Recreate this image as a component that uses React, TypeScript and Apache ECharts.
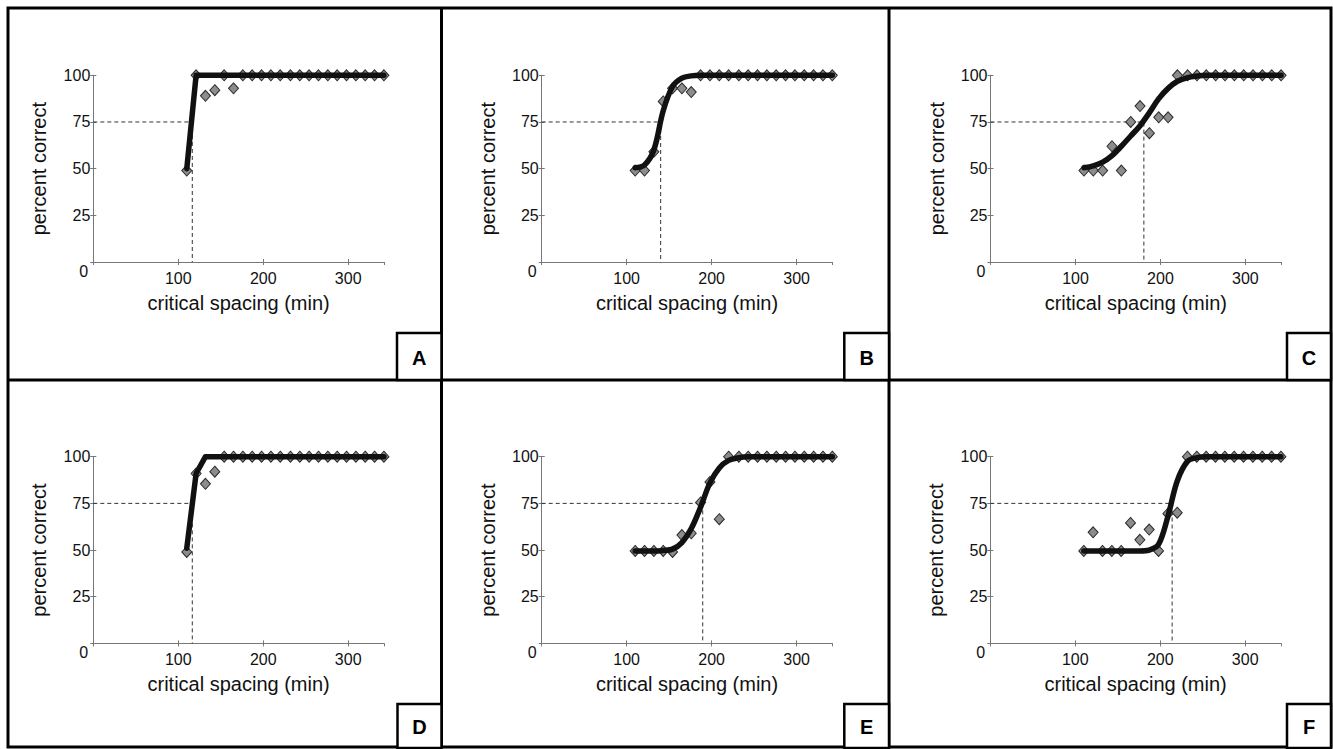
import React, { useEffect, useRef } from 'react';
import * as echarts from 'echarts';

// ---------- data ----------
const xValues = [110, 121, 132, 143, 154, 165, 176, 187, 198, 209, 220, 232, 243, 254, 265, 276, 287, 298, 309, 320, 331, 342];

const panelLetters = ['A', 'B', 'C', 'D', 'E', 'F'];

const dataA = [49, 100, 89, 92, 100, 93, 100, 100, 100, 100, 100, 100, 100, 100, 100, 100, 100, 100, 100, 100, 100, 100];
const dataB = [49, 49, 59, 86, 93, 93, 91, 100, 100, 100, 100, 100, 100, 100, 100, 100, 100, 100, 100, 100, 100, 100];
const dataC = [49, 49, 49, 62, 49, 75, 83.5, 69, 77.5, 77.5, 100, 100, 100, 100, 100, 100, 100, 100, 100, 100, 100, 100];
const dataD = [49, 91, 85.5, 92, 100, 100, 100, 100, 100, 100, 100, 100, 100, 100, 100, 100, 100, 100, 100, 100, 100, 100];
const dataE = [49.5, 49.5, 49.5, 49.5, 49, 58, 59, 75.5, 86.5, 66.5, 100, 100, 100, 100, 100, 100, 100, 100, 100, 100, 100, 100];
const dataF = [49.5, 59.5, 49.5, 49.5, 49.5, 64.5, 55.5, 61, 49.5, 69.5, 70, 100, 100, 100, 100, 100, 100, 100, 100, 100, 100, 100];

const fitA = [50, 100, 100, 100, 100, 100, 100, 100, 100, 100, 100, 100, 100, 100, 100, 100, 100, 100, 100, 100, 100, 100];
const fitB = [50.5, 52, 60, 81, 94, 98.5, 99.7, 100, 100, 100, 100, 100, 100, 100, 100, 100, 100, 100, 100, 100, 100, 100];
const fitC = [50.5, 51.5, 53.5, 57, 62, 67.5, 73, 80, 87.5, 93, 96.8, 98.8, 99.6, 100, 100, 100, 100, 100, 100, 100, 100, 100];
const fitD = [51, 91, 100, 100, 100, 100, 100, 100, 100, 100, 100, 100, 100, 100, 100, 100, 100, 100, 100, 100, 100, 100];
const fitE = [49.5, 49.5, 49.5, 49.8, 50.5, 54, 61.5, 73, 86, 94, 98, 99.5, 100, 100, 100, 100, 100, 100, 100, 100, 100, 100];
const fitF = [49.5, 49.5, 49.5, 49.5, 49.5, 49.5, 49.5, 50, 53, 68, 87, 97.5, 99.5, 100, 100, 100, 100, 100, 100, 100, 100, 100];

const thresholds = [116.5, 140, 180.5, 116.5, 189.5, 214];
const criterion = 75;
const smoothFit = [false, true, true, false, true, true];

const xAxisTitle = 'critical spacing (min)';
const yAxisTitle = 'percent correct';

const allData = [dataA, dataB, dataC, dataD, dataE, dataF];
const allFits = [fitA, fitB, fitC, fitD, fitE, fitF];

// ---------- layout ----------
const FONT = '"Liberation Sans", Arial, Helvetica, sans-serif';
const PW = 290.6;
const PH = 186.7;
const plotPos = [
  { left: 93.3, top: 75.3 },
  { left: 541.7, top: 75.3 },
  { left: 990.5, top: 75.3 },
  { left: 93.3, top: 456.7 },
  { left: 541.7, top: 456.7 },
  { left: 990.3, top: 456.7 },
];
const letterBoxes = [
  { x: 397, y: 333, w: 44.5, h: 47 },
  { x: 844.3, y: 333, w: 44.7, h: 47 },
  { x: 1287, y: 333, w: 44, h: 47 },
  { x: 397.5, y: 704, w: 44, h: 44 },
  { x: 844.3, y: 704, w: 44.7, h: 44 },
  { x: 1287, y: 704, w: 44, h: 44 },
];

function buildOption() {
  const grid: any[] = [];
  const xAxis: any[] = [];
  const yAxis: any[] = [];
  const series: any[] = [];
  const graphic: any[] = [];
  const axisColor = '#777';

  plotPos.forEach((p, i) => {
    grid.push({ left: p.left, top: p.top, width: PW, height: PH, containLabel: false });
    xAxis.push({
      type: 'value', gridIndex: i, min: 0, max: 342, interval: 100, position: 'bottom',
      axisLine: { show: true, lineStyle: { color: axisColor, width: 1 } },
      axisTick: { show: true, inside: true, length: 3, lineStyle: { color: axisColor } },
      axisLabel: { show: true, showMinLabel: false, showMaxLabel: false, margin: 8, fontSize: 16, color: '#111', fontFamily: FONT },
      splitLine: { show: false },
      name: xAxisTitle, nameLocation: 'middle', nameGap: 31,
      nameTextStyle: { fontSize: 20, color: '#111', fontFamily: FONT },
    });
    xAxis.push({
      type: 'value', gridIndex: i, min: 0, max: 342, interval: 100, position: 'top',
      axisLine: { show: true, lineStyle: { color: axisColor, width: 1 } },
      axisTick: { show: true, inside: true, length: 3, lineStyle: { color: axisColor } },
      axisLabel: { show: false }, splitLine: { show: false },
    });
    yAxis.push({
      type: 'value', gridIndex: i, min: 0, max: 100, interval: 25, position: 'left',
      axisLine: { show: true, lineStyle: { color: axisColor, width: 1 } },
      axisTick: { show: true, inside: true, length: 3, lineStyle: { color: axisColor } },
      axisLabel: { show: true, showMinLabel: false, margin: 3, fontSize: 16, color: '#111', fontFamily: FONT },
      splitLine: { show: false },
      name: yAxisTitle, nameLocation: 'middle', nameGap: 44, nameRotate: 90,
      nameTextStyle: { fontSize: 20, color: '#111', fontFamily: FONT },
    });
    yAxis.push({
      type: 'value', gridIndex: i, min: 0, max: 100, interval: 25, position: 'right',
      axisLine: { show: true, lineStyle: { color: axisColor, width: 1 } },
      axisTick: { show: true, inside: true, length: 3, lineStyle: { color: axisColor } },
      axisLabel: { show: false }, splitLine: { show: false },
    });

    const xi = i * 2;
    const yi = i * 2;
    series.push({
      type: 'line', xAxisIndex: xi, yAxisIndex: yi, symbol: 'none', clip: false, z: 1,
      data: [[0, criterion], [thresholds[i], criterion], [thresholds[i], 0]],
      lineStyle: { color: '#333', width: 1, type: [4, 3] },
      silent: true,
    });
    series.push({
      type: 'scatter', xAxisIndex: xi, yAxisIndex: yi, clip: false, z: 2,
      symbol: 'diamond', symbolSize: [10, 11],
      data: xValues.map((x, j) => [x, allData[i][j]]),
      itemStyle: { color: '#8c8c8c', borderColor: '#2a2a2a', borderWidth: 1, opacity: 1 },
    });
    series.push({
      type: 'line', xAxisIndex: xi, yAxisIndex: yi, symbol: 'none', clip: false, z: 3,
      smooth: smoothFit[i] ? 0.35 : false,
      data: xValues.map((x, j) => [x, allFits[i][j]]),
      lineStyle: { color: '#111', width: 5.5, cap: 'round', join: 'round' },
    });

    graphic.push({
      type: 'text', left: p.left - 14, top: p.top + PH + 1,
      style: { text: '0', fontSize: 16, fill: '#111', fontFamily: FONT },
    });
  });

  graphic.push({
    type: 'rect', shape: { x: 8, y: 8, width: 1323, height: 739 },
    style: { fill: 'none', stroke: '#000', lineWidth: 3 }, z: 10,
  });
  graphic.push({ type: 'line', shape: { x1: 8, y1: 380, x2: 1331, y2: 380 }, style: { stroke: '#000', lineWidth: 3 }, z: 10 });
  graphic.push({ type: 'line', shape: { x1: 441.5, y1: 8, x2: 441.5, y2: 748 }, style: { stroke: '#000', lineWidth: 3 }, z: 10 });
  graphic.push({ type: 'line', shape: { x1: 889, y1: 8, x2: 889, y2: 748 }, style: { stroke: '#000', lineWidth: 3 }, z: 10 });

  letterBoxes.forEach((b, i) => {
    graphic.push({
      type: 'rect', shape: { x: b.x, y: b.y, width: b.w, height: b.h },
      style: { fill: '#fff', stroke: '#000', lineWidth: 2.5 }, z: 10,
    });
    graphic.push({
      type: 'text', x: b.x + b.w / 2, y: b.y + b.h / 2 + 1, z: 11,
      style: { text: panelLetters[i], fontSize: 20, fontWeight: 'bold', fill: '#000', fontFamily: FONT, align: 'center', verticalAlign: 'middle' },
    });
  });

  return {
    animation: false,
    backgroundColor: '#fff',
    grid, xAxis, yAxis, series, graphic,
  };
}

export default function App() {
  const ref = useRef<HTMLDivElement>(null);
  useEffect(() => {
    if (!ref.current) return;
    const chart = echarts.init(ref.current, undefined, { renderer: 'svg' });
    chart.setOption(buildOption() as any);
    return () => chart.dispose();
  }, []);
  return (
    <div
      ref={ref}
      style={{ position: 'absolute', left: 0, top: 0, width: 1333, height: 749, background: '#fff' }}
    />
  );
}
